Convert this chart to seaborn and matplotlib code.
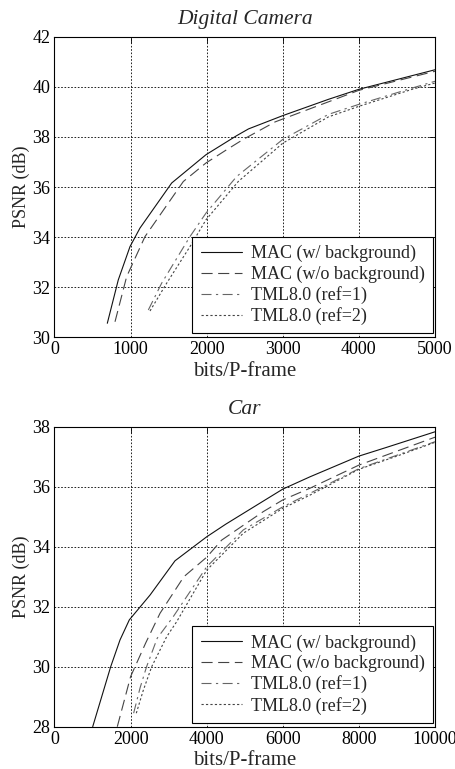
import numpy as np
import pandas as pd
import matplotlib
matplotlib.use("Agg")
import matplotlib.pyplot as plt
import seaborn as sns

# ---------------- data ----------------
series_labels = ["MAC (w/ background)", "MAC (w/o background)",
                 "TML8.0 (ref=1)", "TML8.0 (ref=2)"]

# Digital Camera
cam_mac_w_x = [694, 838, 992, 1123, 1540, 1991, 2394, 2550, 3000, 3600, 4000, 5000]
cam_mac_w_y = [30.56, 32.29, 33.62, 34.36, 36.16, 37.29, 38.05, 38.32, 38.85, 39.5, 39.9, 40.68]
cam_mac_wo_x = [795, 948, 1189, 1693, 1991, 2263, 2480, 2900, 3600, 4000, 5000]
cam_mac_wo_y = [30.62, 32.42, 34.02, 36.22, 36.96, 37.49, 37.9, 38.6, 39.4, 39.86, 40.62]
cam_tml1_x = [1233, 1408, 1780, 1991, 2394, 3000, 3600, 4000, 4700, 5000]
cam_tml1_y = [31.09, 32.16, 34.02, 34.96, 36.42, 37.9, 38.9, 39.3, 39.95, 40.22]
cam_tml2_x = [1255, 1474, 1780, 1991, 2415, 3000, 3600, 4000, 4700, 5000]
cam_tml2_y = [31.05, 32.16, 33.62, 34.69, 36.22, 37.75, 38.8, 39.22, 39.9, 40.15]

# Car
car_mac_w_x = [1004, 1477, 1721, 1966, 2512, 3167, 4000, 4500, 6000, 6715, 8000, 8700, 10000]
car_mac_w_y = [28.0, 30.0, 30.89, 31.56, 32.39, 33.53, 34.33, 34.75, 35.92, 36.33, 37.02, 37.3, 37.83]
car_mac_wo_x = [1650, 2000, 2400, 2773, 3400, 4000, 4393, 5488, 6000, 6715, 8000, 10000]
car_mac_wo_y = [28.0, 29.67, 30.8, 31.78, 33.0, 33.65, 34.22, 35.17, 35.56, 35.95, 36.72, 37.65]
car_tml1_x = [2080, 2250, 2420, 2700, 3122, 4000, 4962, 6000, 6715, 8000, 9000, 10000]
car_tml1_y = [28.45, 29.3, 30.0, 30.95, 31.67, 33.33, 34.56, 35.33, 35.78, 36.6, 37.05, 37.5]
car_tml2_x = [2150, 2330, 2554, 2948, 3211, 4000, 4962, 6000, 6715, 8000, 9000, 10000]
car_tml2_y = [28.45, 29.2, 30.0, 31.0, 31.5, 33.22, 34.45, 35.28, 35.72, 36.58, 37.02, 37.48]

panels = [
    dict(title="Digital Camera",
         xs=[cam_mac_w_x, cam_mac_wo_x, cam_tml1_x, cam_tml2_x],
         ys=[cam_mac_w_y, cam_mac_wo_y, cam_tml1_y, cam_tml2_y],
         xlim=(0, 5000), xticks=[0, 1000, 2000, 3000, 4000, 5000],
         ylim=(30, 42), yticks=[30, 32, 34, 36, 38, 40, 42]),
    dict(title="Car",
         xs=[car_mac_w_x, car_mac_wo_x, car_tml1_x, car_tml2_x],
         ys=[car_mac_w_y, car_mac_wo_y, car_tml1_y, car_tml2_y],
         xlim=(0, 10000), xticks=[0, 2000, 4000, 6000, 8000, 10000],
         ylim=(28, 38), yticks=[28, 30, 32, 34, 36, 38]),
]

# ---------------- style ----------------
sns.set_style("white")
plt.rcParams["font.family"] = ["Liberation Serif", "DejaVu Serif"]

styles = [
    dict(color="#111111", linestyle="-"),
    dict(color="#444444", linestyle=(0, (10, 5))),
    dict(color="#666666", linestyle=(0, (9, 4, 2, 4))),
    dict(color="#444444", linestyle=(0, (2, 2))),
]

fig = plt.figure(figsize=(4.56, 7.69), dpi=100)
axes_pos = [
    [54.5 / 456, 1 - 337.3 / 769, 380.5 / 456, 300.6 / 769],
    [54.5 / 456, 1 - 726.7 / 769, 380.5 / 456, 300.0 / 769],
]

for pos, p in zip(axes_pos, panels):
    ax = fig.add_axes(pos)
    for lab, xv, yv, st in zip(series_labels, p["xs"], p["ys"], styles):
        df = pd.DataFrame({"x": xv, "y": yv})
        sns.lineplot(data=df, x="x", y="y", ax=ax, estimator=None, sort=False,
                     linewidth=0.8, label=lab, **st)
    ax.set_xlim(*p["xlim"])
    ax.set_ylim(*p["ylim"])
    ax.set_xticks(p["xticks"])
    ax.set_yticks(p["yticks"])
    ax.tick_params(direction="in", length=4, width=0.6, labelsize=13,
                   top=True, right=True, pad=3, colors="black")
    ax.grid(True, color="black", linestyle=(0, (2, 2)), linewidth=0.6)
    for s in ax.spines.values():
        s.set_color("black")
        s.set_linewidth(0.8)
    ax.set_title(p["title"], fontsize=15.5, fontstyle="italic", pad=9)
    ax.set_xlabel("bits/P-frame", fontsize=15, labelpad=2.5)
    ax.set_ylabel("PSNR (dB)", fontsize=13, labelpad=2)
    h, l = ax.get_legend_handles_labels()
    leg = ax.legend(h, l, loc="lower right", bbox_to_anchor=(0.995, 0.013),
                    borderaxespad=0, fancybox=False, framealpha=1,
                    edgecolor="black", fontsize=13, handlelength=2.3,
                    handletextpad=0.5, labelspacing=0.18, borderpad=0.45)
    leg.get_frame().set_linewidth(0.8)

fig.savefig("out.png", dpi=100)
